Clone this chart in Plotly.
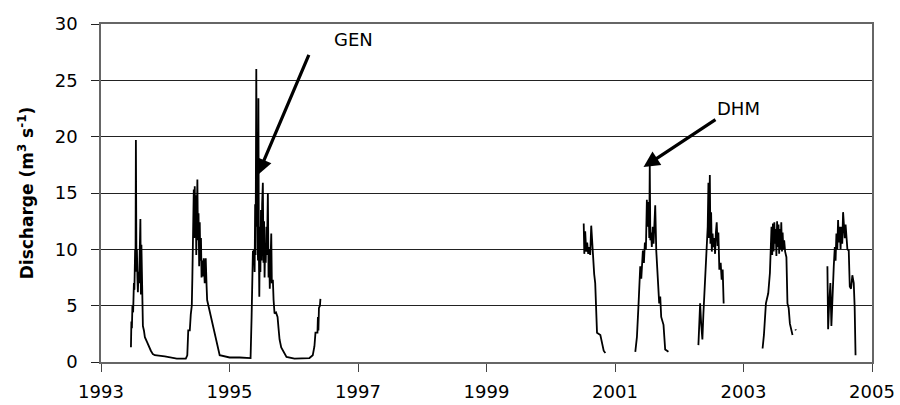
import plotly.graph_objects as go

# GEN gauge record (decimal year, discharge m3/s)
gen_year = [1993.466, 1993.473, 1993.481, 1993.489, 1993.500, 1993.512, 1993.520, 1993.531, 1993.537, 1993.543,
            1993.551, 1993.559, 1993.567, 1993.574, 1993.584, 1993.593, 1993.613, 1993.621, 1993.629, 1993.636,
            1993.644, 1993.652, 1993.668, 1993.683, 1993.714, 1993.745, 1993.776, 1993.807, 1993.838, 1993.993,
            1994.180, 1994.320, 1994.343, 1994.358, 1994.382, 1994.397, 1994.413, 1994.422, 1994.431, 1994.438,
            1994.444, 1994.452, 1994.459, 1994.467, 1994.475, 1994.483, 1994.490, 1994.500, 1994.509, 1994.518,
            1994.528, 1994.537, 1994.546, 1994.556, 1994.565, 1994.574, 1994.583, 1994.599, 1994.614, 1994.630,
            1994.643, 1994.652, 1994.847, 1995.002, 1995.157, 1995.328, 1995.344, 1995.352, 1995.364, 1995.383,
            1995.391, 1995.399, 1995.406, 1995.417, 1995.425, 1995.434, 1995.443, 1995.450, 1995.457, 1995.464,
            1995.473, 1995.481, 1995.490, 1995.499, 1995.508, 1995.519, 1995.529, 1995.538, 1995.546, 1995.555,
            1995.564, 1995.574, 1995.583, 1995.597, 1995.608, 1995.617, 1995.627, 1995.636, 1995.650, 1995.659,
            1995.675, 1995.686, 1995.701, 1995.724, 1995.748, 1995.763, 1995.779, 1995.805, 1995.833, 1995.856,
            1995.887, 1996.011, 1996.136, 1996.244, 1996.296, 1996.322, 1996.338, 1996.369, 1996.376, 1996.384,
            1996.392, 1996.408, 1996.415]
gen_q = [1.3, 3.6, 3.0, 5.0, 4.4, 7.0, 6.4, 10.0, 8.0, 19.7,
         9.6, 10.0, 7.4, 6.2, 8.0, 7.0, 12.7, 6.0, 10.4, 8.0,
         5.0, 3.2, 2.8, 2.2, 1.8, 1.3, 1.0, 0.7, 0.6, 0.5,
         0.3, 0.3, 0.6, 2.8, 2.8, 4.2, 5.0, 7.5, 12.3, 10.0,
         15.3, 11.0, 15.6, 12.5, 14.8, 9.5, 13.5, 16.2, 10.8, 13.2,
         8.5, 12.4, 9.0, 11.0, 7.5, 9.0, 7.6, 9.2, 7.0, 9.2,
         6.8, 5.5, 0.6, 0.4, 0.4, 0.35, 4.0, 6.4, 9.8, 9.9,
         8.0, 14.0, 9.5, 26.0, 12.0, 16.0, 9.0, 23.4, 10.0, 5.8,
         12.0, 8.0, 13.5, 9.0, 14.0, 15.9, 8.8, 12.5, 7.5, 10.5,
         8.8, 12.0, 9.5, 15.0, 7.5, 10.0, 6.5, 9.0, 11.4, 7.0,
         7.3, 5.5, 4.3, 4.4, 4.0, 3.0, 2.0, 1.3, 1.0, 0.7,
         0.45, 0.3, 0.3, 0.35, 0.6, 1.4, 2.6, 2.6, 4.0, 2.8,
         4.8, 5.0, 5.6]

# DHM gauge record (None separates the seasons)
dhm_year = [2000.513, 2000.522, 2000.536, 2000.552, 2000.567, 2000.583, 2000.599, 2000.614, 2000.630, 2000.645,
            2000.661, 2000.676, 2000.692, 2000.704, 2000.720, 2000.772, 2000.797, 2000.824, 2000.850, 2000.900,
            2001.316, 2001.341, 2001.367, 2001.393, 2001.409, 2001.434, 2001.450, 2001.465, 2001.481, 2001.496,
            2001.510, 2001.522, 2001.533, 2001.541, 2001.550, 2001.562, 2001.573, 2001.587, 2001.600, 2001.626,
            2001.642, 2001.652, 2001.667, 2001.688, 2001.704, 2001.719, 2001.755, 2001.781, 2001.832, 2001.900,
            2002.298, 2002.325, 2002.340, 2002.360, 2002.376, 2002.402, 2002.427, 2002.443, 2002.454, 2002.463,
            2002.476, 2002.485, 2002.496, 2002.507, 2002.519, 2002.531, 2002.544, 2002.558, 2002.570, 2002.583,
            2002.597, 2002.609, 2002.624, 2002.645, 2002.660, 2002.676, 2002.691, 2002.750,
            2003.297, 2003.318, 2003.349, 2003.385, 2003.411, 2003.427, 2003.436, 2003.447, 2003.458, 2003.469,
            2003.480, 2003.491, 2003.501, 2003.512, 2003.523, 2003.534, 2003.545, 2003.555, 2003.566, 2003.577,
            2003.588, 2003.599, 2003.609, 2003.620, 2003.633, 2003.648, 2003.668, 2003.684, 2003.703, 2003.722,
            2003.737, 2003.763, 2003.790, 2003.808, 2003.815, 2003.830,
            2004.306, 2004.317, 2004.332, 2004.352, 2004.368, 2004.384, 2004.405, 2004.421, 2004.433, 2004.446,
            2004.460, 2004.472, 2004.484, 2004.498, 2004.511, 2004.523, 2004.537, 2004.550, 2004.561, 2004.576,
            2004.589, 2004.601, 2004.617, 2004.638, 2004.654, 2004.674, 2004.694, 2004.716, 2004.730, 2004.744]
dhm_q = [12.3, 9.6, 11.6, 9.8, 10.6, 9.6, 10.2, 9.5, 12.1, 10.3,
         9.7, 7.8, 7.0, 4.6, 2.6, 2.4, 1.6, 1.0, 0.8, None,
         0.9, 2.2, 5.2, 8.5, 7.4, 9.9, 8.8, 10.6, 10.0, 14.4,
         12.0, 14.2, 11.0, 17.5, 10.8, 11.5, 10.2, 12.0, 10.5, 13.9,
         9.9, 8.8, 7.2, 5.2, 5.8, 4.0, 3.3, 1.1, 0.9, None,
         1.5, 5.2, 3.5, 2.0, 4.3, 7.9, 9.9, 12.0, 15.9, 11.0,
         16.6, 10.5, 13.3, 9.8, 11.4, 10.2, 11.0, 9.6, 11.5, 12.4,
         10.3, 11.5, 8.2, 8.8, 7.3, 8.2, 5.2, None,
         1.2, 2.4, 5.2, 6.1, 7.9, 10.0, 12.0, 9.5, 12.3, 9.8,
         12.4, 10.5, 11.8, 9.4, 12.5, 10.2, 12.2, 9.6, 11.8, 10.0,
         12.4, 9.8, 11.5, 10.0, 10.8, 9.8, 9.3, 5.2, 4.8, 3.4,
         3.0, 2.4, None, 2.9, 2.8, None,
         8.5, 2.9, 5.0, 7.0, 3.2, 6.1, 8.5, 10.2, 9.0, 11.4,
         10.0, 12.6, 10.6, 12.0, 10.0, 12.0, 10.5, 13.3, 12.0, 11.0,
         12.2, 11.4, 10.0, 9.9, 6.7, 6.5, 7.7, 7.0, 4.9, 0.6]

x_ticks = [1993, 1995, 1997, 1999, 2001, 2003, 2005]
y_ticks = [0, 5, 10, 15, 20, 25, 30]

# Annotations: label, arrow tip (x, y), arrow tail (x, y), label position (x, y)
gen_label = ("GEN", 1995.44, 16.6, 1996.245, 27.4, 1996.93, 28.6)
dhm_label = ("DHM", 2001.444, 17.3, 2002.587, 21.6, 2002.92, 22.5)

FONT = "DejaVu Sans"

fig = go.Figure()
fig.add_trace(go.Scatter(x=gen_year, y=gen_q, mode="lines",
                         line=dict(color="black", width=1.8), connectgaps=False,
                         showlegend=False, hoverinfo="skip"))
fig.add_trace(go.Scatter(x=dhm_year, y=dhm_q, mode="lines",
                         line=dict(color="black", width=1.8), connectgaps=False,
                         showlegend=False, hoverinfo="skip"))

for name, hx, hy, tx, ty, lx, ly in (gen_label, dhm_label):
    fig.add_annotation(x=hx, y=hy, ax=tx, ay=ty, xref="x", yref="y", axref="x", ayref="y",
                       text="", showarrow=True, arrowhead=2, arrowsize=1, arrowwidth=3.2,
                       arrowcolor="black")
    fig.add_annotation(x=lx, y=ly, xref="x", yref="y", text=name, showarrow=False,
                       font=dict(family=FONT, size=18, color="black"))

fig.update_layout(
    width=900, height=405,
    margin=dict(l=101, r=28, t=24, b=43, autoexpand=False),
    paper_bgcolor="white", plot_bgcolor="white",
    font=dict(family=FONT, size=18, color="black"),
)
fig.update_xaxes(range=[1993, 2005], tickvals=x_ticks, ticktext=[str(v) for v in x_ticks],
                 automargin=False,
                 showgrid=False, zeroline=False, showline=True, linecolor="#666", linewidth=1.5,
                 mirror=True, ticks="outside", ticklen=8, tickcolor="#444", tickwidth=1,
                 ticklabelstandoff=5, tickfont=dict(family=FONT, size=18))
fig.update_yaxes(range=[0, 30], tickvals=y_ticks, showgrid=True, gridcolor="#222", gridwidth=1,
                 automargin=False,
                 zeroline=False, showline=True, linecolor="#666", linewidth=1.5, mirror=True,
                 ticks="outside", ticklen=8, tickcolor="#222", tickwidth=1,
                 ticklabelstandoff=10, tickfont=dict(family=FONT, size=18),
                 title=dict(text="<b>Discharge (m<sup>3</sup> s<sup>-1</sup>)</b>",
                            font=dict(family=FONT, size=17), standoff=17))

fig.write_html("out.html")
